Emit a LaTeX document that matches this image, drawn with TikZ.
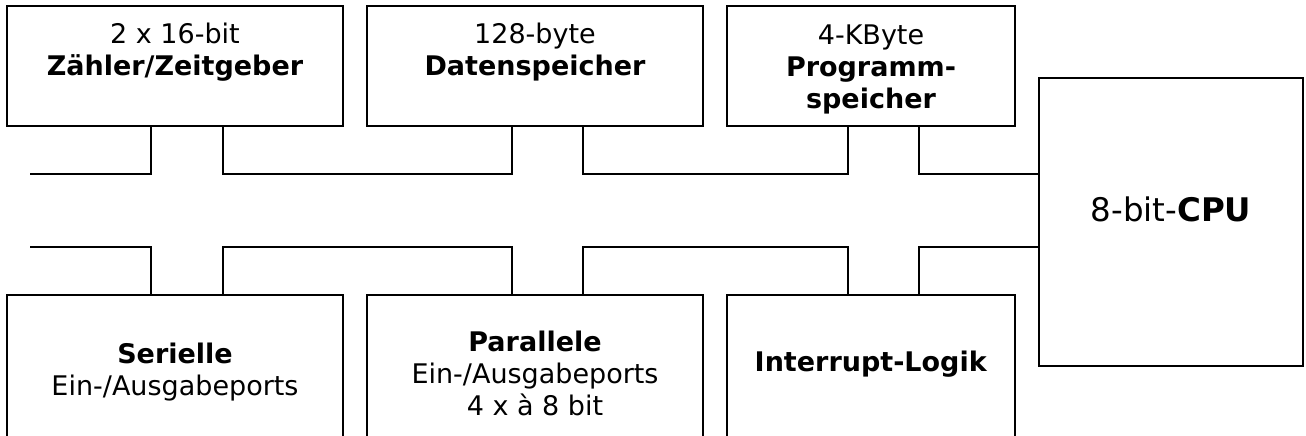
\documentclass[tikz,border=0pt]{standalone}
\usepackage{fontspec}
\setmainfont{DejaVu Sans}
\begin{document}
\begin{tikzpicture}[x=1pt,y=-1pt,
  blk/.style={draw=black, line width=1.8pt, fill=white, inner sep=0pt},
  lbl/.style={inner sep=0pt, align=center,
    font=\fontsize{27}{32}\selectfont, execute at begin node=\strut},
  cpulbl/.style={inner sep=0pt, font=\fontsize{32.5}{38}\selectfont},
  bus/.style={draw=black, line width=1.8pt}]
\useasboundingbox (0,0) rectangle (1306,436);
\clip (0,0) rectangle (1306,436);

% upper row of function blocks
\node[blk, minimum width=336pt, minimum height=120pt] (zt) at (175,66) {};
\node[blk, minimum width=336pt, minimum height=120pt] (ds) at (535,66) {};
\node[blk, minimum width=288pt, minimum height=120pt] (ps) at (871,66) {};

% lower row (open towards the bottom edge)
\node[blk, minimum width=336pt, minimum height=180pt] (sio) at (175,385) {};
\node[blk, minimum width=336pt, minimum height=180pt] (pio) at (535,385) {};
\node[blk, minimum width=288pt, minimum height=180pt] (irq) at (871,385) {};

% processor core
\node[blk, minimum width=264pt, minimum height=288pt] (cpu) at (1171,222) {};

% block labels
\node[lbl] (ztl) at (175,54) {2 x 16-bit\\\textbf{Zähler/Zeitgeber}};
\node[lbl] (dsl) at (535,54) {128-byte\\\textbf{Datenspeicher}};
\node[lbl] (psl) at (871,71) {4-KByte\\\textbf{Programm-}\\\textbf{speicher}};
\node[lbl] (siol) at (175,374) {\textbf{Serielle}\\Ein-/Ausgabeports};
\node[lbl] (piol) at (535,378) {\textbf{Parallele}\\Ein-/Ausgabeports\\4 x à 8 bit};
\node[lbl] (irql) at (871,365) {\textbf{Interrupt-Logik}};
\node[cpulbl] (cpul) at (1171,209) {8-bit-\textbf{CPU}};

% bus levels and free bus ends
\coordinate (busT) at (0,174);
\coordinate (busB) at (0,247);
\coordinate (endT) at (30,174);
\coordinate (endB) at (30,247);

% tap points on the blocks
\coordinate (zt1) at ([xshift=-24pt]zt.south);
\coordinate (zt2) at ([xshift=48pt]zt.south);
\coordinate (ds1) at ([xshift=-23pt]ds.south);
\coordinate (ds2) at ([xshift=48pt]ds.south);
\coordinate (ps1) at ([xshift=-23pt]ps.south);
\coordinate (ps2) at ([xshift=48pt]ps.south);
\coordinate (sio1) at ([xshift=-24pt]sio.north);
\coordinate (sio2) at ([xshift=48pt]sio.north);
\coordinate (pio1) at ([xshift=-23pt]pio.north);
\coordinate (pio2) at ([xshift=48pt]pio.north);
\coordinate (irq1) at ([xshift=-23pt]irq.north);
\coordinate (irq2) at ([xshift=48pt]irq.north);

% upper bus
\draw[bus] (endT) -| (zt1);
\draw[bus] (zt2) -- (zt2 |- busT) -| (ds1);
\draw[bus] (ds2) -- (ds2 |- busT) -| (ps1);
\draw[bus] (ps2) -- (ps2 |- busT) -- (cpu.west |- busT);

% lower bus
\draw[bus] (endB) -| (sio1);
\draw[bus] (sio2) -- (sio2 |- busB) -| (pio1);
\draw[bus] (pio2) -- (pio2 |- busB) -| (irq1);
\draw[bus] (irq2) -- (irq2 |- busB) -- (cpu.west |- busB);
\end{tikzpicture}
\end{document}
